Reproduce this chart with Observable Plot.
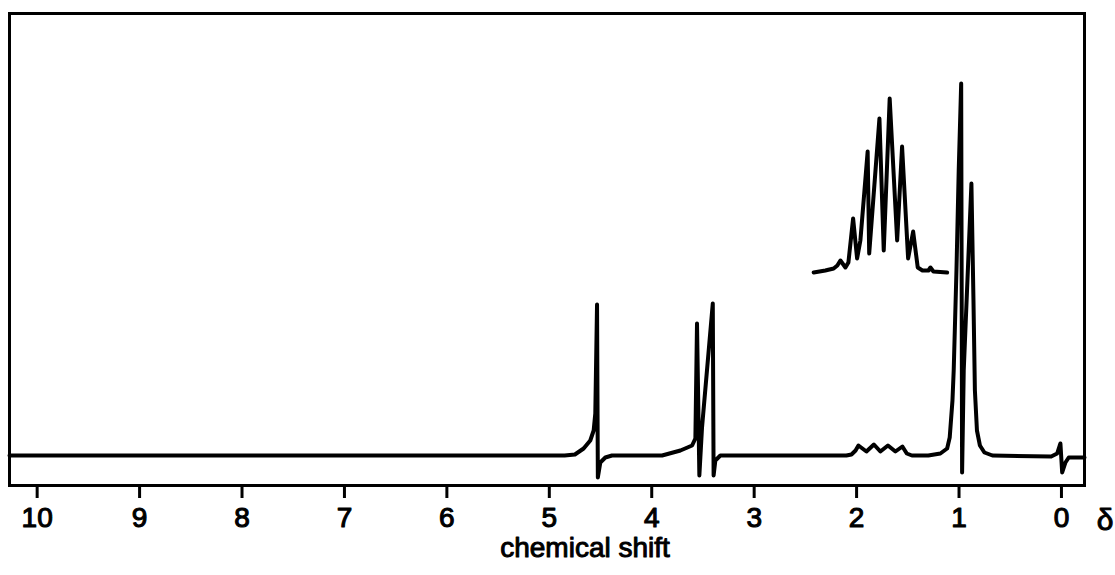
<!DOCTYPE html>
<html>
<head>
<meta charset="utf-8">
<script src="https://cdn.jsdelivr.net/npm/d3@7"></script>
<script src="https://cdn.jsdelivr.net/npm/@observablehq/plot@0.6"></script>
<style>
  html, body { margin: 0; padding: 0; background: #fff; }
  #chart { width: 1115px; height: 575px; }
</style>
</head>
<body>
<div id="chart"></div>
<script>
const traceShift = [10.27, 4.85, 4.75, 4.665, 4.60, 4.567, 4.551, 4.534, 4.526, 4.502, 4.453, 4.388,
  3.899, 3.72, 3.606, 3.574, 3.558, 3.535, 3.509, 3.404, 3.396, 3.379, 3.33,
  2.10, 2.05, 2.01, 1.982, 1.904, 1.831, 1.768, 1.694, 1.621, 1.553, 1.51, 1.46, 1.30,
  1.182, 1.116, 1.091, 1.064, 1.052, 1.025, 1.003, 0.979, 0.970, 0.954, 0.879,
  0.859, 0.845, 0.825, 0.796, 0.752, 0.674, 0.10, 0.042, 0.017, 0.010, -0.007, -0.039, -0.071, -0.225];
// Signal intensity at each vertex (baseline = 0)
const traceIntensity = [0, 0, 1, 7, 15, 25, 42, 151, -22, -7, -2, 0,
  0, 5, 10, 17, 132, -20, 28, 152, -20, -5, 0,
  0, 1, 5, 10, 4, 11, 4, 10, 4, 9, 2, 0, 0,
  2, 7, 18, 55, 85, 185, 285, 372, -17, 85, 272,
  155, 65, 25, 10, 3, 0, -1, 2, 10, 12, -17, -7, -2, -2];

// Expanded inset of the 2.0–1.5 ppm multiplet, as drawn (shift position on the page, intensity)
const insetShift = [2.419, 2.305, 2.224, 2.188, 2.158, 2.109, 2.08, 2.034, 1.995, 1.963, 1.892, 1.877,
  1.777, 1.735, 1.677, 1.604, 1.556, 1.497, 1.448, 1.403, 1.357, 1.299, 1.279, 1.25, 1.116];
const insetIntensity = [183, 185, 187, 190, 195, 188, 193, 237, 197, 215, 304, 202,
  337, 205, 357, 215, 309, 197, 224, 188, 185, 185, 188, 184, 183];

// Axis ticks
const tickValues = [10, 9, 8, 7, 6, 5, 4, 3, 2, 1, 0];
const tickLabels = ["10", "9", "8", "7", "6", "5", "4", "3", "2", "1", "0"];
const xLabel = "chemical shift";
const unitLabel = "δ";

const trace = traceShift.map((x, i) => ({x, y: traceIntensity[i]}));
const inset = insetShift.map((x, i) => ({x, y: insetIntensity[i]}));

const font = "'Liberation Sans', Arial, Helvetica, sans-serif";

const chart = Plot.plot({
  width: 1115,
  height: 575,
  marginLeft: 9,
  marginRight: 31,
  marginTop: 13,
  marginBottom: 90,
  style: {fontFamily: font, background: "#fff", color: "#000"},
  x: {domain: [10.27, -0.225], axis: null},
  y: {domain: [-30, 442], axis: null},
  marks: [
    Plot.axisX({
      ticks: tickValues,
      tickFormat: (d) => tickLabels[tickValues.indexOf(d)],
      tickSize: 13,
      tickPadding: 9,
      strokeWidth: 3,
      fontSize: 28,
      fill: "#000",
      stroke: "#000",
      textStroke: "#000",
      textStrokeWidth: 1.1,
      label: null
    }),
    Plot.line(trace, {x: "x", y: "y", stroke: "#000", strokeWidth: 4, strokeLinejoin: "round", strokeLinecap: "round", curve: "linear"}),
    Plot.line(inset, {x: "x", y: "y", stroke: "#000", strokeWidth: 4, strokeLinejoin: "round", strokeLinecap: "round", curve: "linear"}),
    Plot.frame({stroke: "#000", strokeWidth: 3}),
    Plot.text([xLabel], {frameAnchor: "bottom", dx: 38, dy: 71, fontSize: 28, fill: "#000", stroke: "#000", strokeWidth: 1, text: (d) => d}),
    Plot.text([unitLabel], {frameAnchor: "bottom-right", dx: 29, dy: 44, fontSize: 30, fill: "#000", stroke: "#000", strokeWidth: 1, text: (d) => d})
  ]
});
document.getElementById("chart").appendChild(chart);
</script>
</body>
</html>
